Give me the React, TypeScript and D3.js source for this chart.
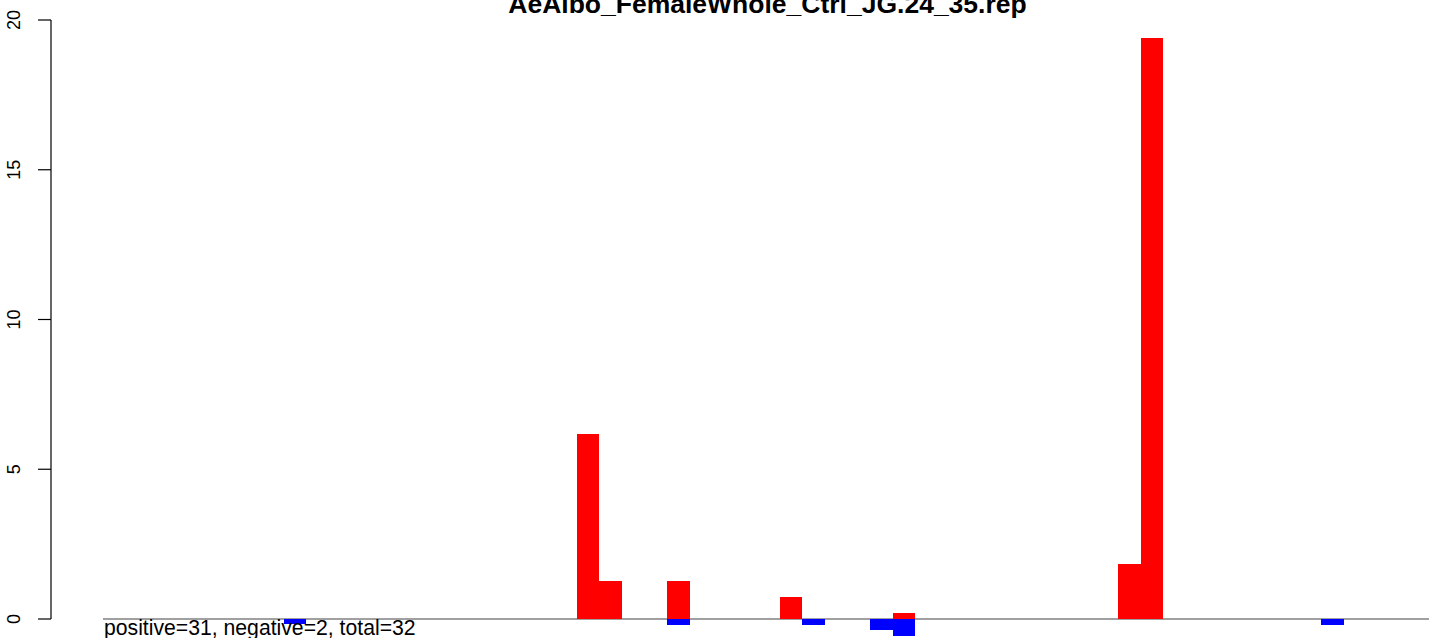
import React from "react";
import * as d3 from "d3";

const title = "AeAlbo_FemaleWhole_Ctrl_JG.24_35.rep";
const footer = "positive=31, negative=2, total=32";

// slot indices along the x axis (59 slots)
const slots: number[] = d3.range(59);

// positive (red) values per slot
const positiveValues: number[] = [
  0, 0, 0, 0, 0, 0, 0, 0, 0, 0,
  0, 0, 0, 0, 0, 0, 0, 0, 0, 0,
  0, 6.18, 1.27, 0, 0, 1.27, 0, 0, 0, 0,
  0.74, 0, 0, 0, 0, 0.2, 0, 0, 0, 0,
  0, 0, 0, 0, 0, 1.84, 19.41, 0, 0, 0,
  0, 0, 0, 0, 0, 0, 0, 0, 0,
];

// negative (blue) values per slot
const negativeValues: number[] = [
  0, 0, 0, 0, 0, 0, 0, 0, -0.18, 0,
  0, 0, 0, 0, 0, 0, 0, 0, 0, 0,
  0, 0, 0, 0, 0, -0.2, 0, 0, 0, 0,
  0, -0.19, 0, 0, -0.37, -0.57, 0, 0, 0, 0,
  0, 0, 0, 0, 0, 0, 0, 0, 0, 0,
  0, 0, 0, 0, -0.19, 0, 0, 0, 0,
];

const yTicks: number[] = [0, 5, 10, 15, 20];

const W = 1429;
const H = 638;

export default function App() {
  const x = d3.scaleBand<number>().domain(slots).range([103.3, 1433.8]).padding(0);
  const y = d3.scaleLinear().domain([0, 20]).range([619, 20]);
  const font = "'Liberation Sans', Arial, Helvetica, sans-serif";

  const bar = (v: number, i: number, color: string, key: string) => {
    if (v === 0) return null;
    const y0 = y(0);
    const y1 = y(v);
    return (
      <rect
        key={key}
        x={x(i)}
        width={x.bandwidth()}
        y={Math.min(y0, y1)}
        height={Math.abs(y1 - y0)}
        fill={color}
        shapeRendering="crispEdges"
      />
    );
  };

  return (
    <svg
      width={W}
      height={H}
      style={{ position: "absolute", left: 0, top: 0, background: "#fff" }}
    >
      <rect x={0} y={0} width={W} height={H} fill="#fff" />
      {/* zero line */}
      <line x1={103} x2={W} y1={y(0)} y2={y(0)} stroke="#a0a0a0" strokeWidth={2} />
      {/* bars */}
      {positiveValues.map((v, i) => bar(v, i, "#ff0000", "p" + i))}
      {negativeValues.map((v, i) => bar(v, i, "#0000ff", "n" + i))}
      {/* y axis */}
      <line x1={51} x2={51} y1={y(0)} y2={y(20)} stroke="#000" strokeWidth={1.2} />
      {yTicks.map((t) => (
        <g key={t}>
          <line x1={38} x2={51} y1={y(t)} y2={y(t)} stroke="#000" strokeWidth={1.2} />
          <text
            x={20}
            y={y(t)}
            transform={`rotate(-90, 20, ${y(t)})`}
            textAnchor="middle"
            fontFamily={font}
            fontSize={18}
            fill="#000"
          >
            {t}
          </text>
        </g>
      ))}
      {/* title */}
      <text
        x={767.5}
        y={13}
        textAnchor="middle"
        fontFamily={font}
        fontWeight="bold"
        fontSize={26.5}
        fill="#000"
      >
        {title}
      </text>
      {/* footer */}
      <text x={104} y={635} fontFamily={font} fontSize={21.2} fill="#000">
        {footer}
      </text>
    </svg>
  );
}
